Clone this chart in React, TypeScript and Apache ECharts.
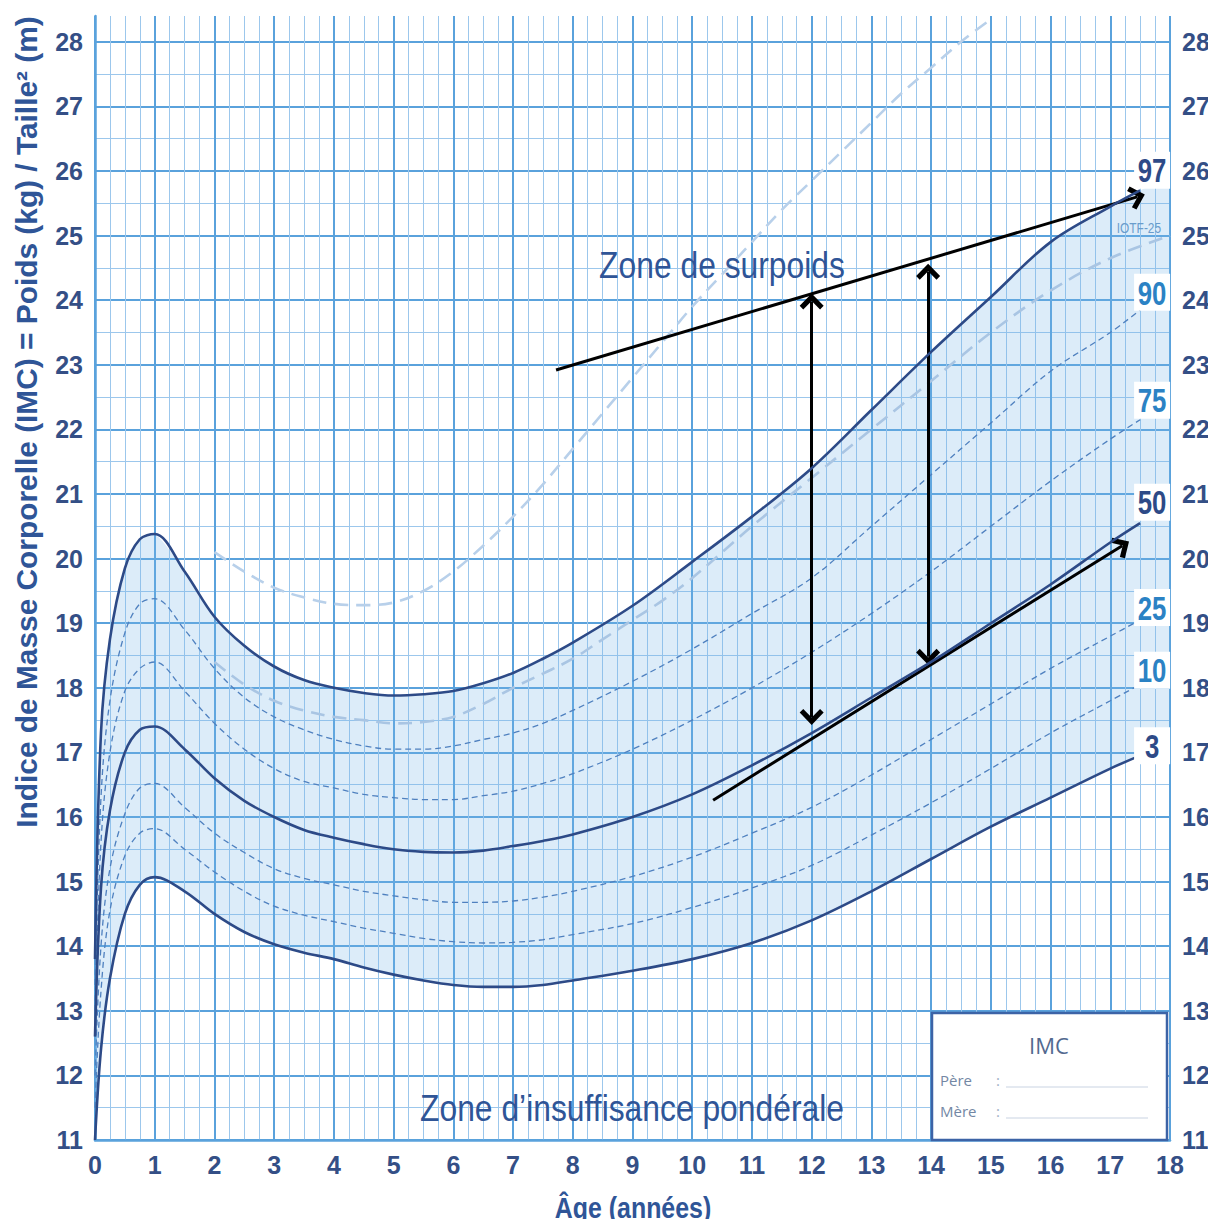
import React, { useEffect, useRef } from "react";
import * as echarts from "echarts";

// ---- data ----
const ages = [0, 0.1, 0.25, 0.5, 0.75, 1, 1.5, 2, 2.5, 3, 3.5, 4, 4.5, 5, 5.5, 6, 6.5, 7, 7.5, 8, 9, 10, 11, 12, 13, 14, 15, 16, 17, 17.5];
const p97 = [13.8, 17.3, 18.75, 19.85, 20.3, 20.38, 19.8, 19.1, 18.65, 18.33, 18.12, 18.0, 17.92, 17.88, 17.9, 17.95, 18.07, 18.23, 18.45, 18.7, 19.27, 19.95, 20.65, 21.4, 22.3, 23.2, 24.05, 24.9, 25.45, 25.7];
const p90 = [13.4, 16.3, 17.8, 18.85, 19.3, 19.38, 18.9, 18.3, 17.85, 17.55, 17.35, 17.2, 17.1, 17.05, 17.05, 17.1, 17.2, 17.3, 17.45, 17.65, 18.1, 18.6, 19.15, 19.7, 20.5, 21.3, 22.1, 22.9, 23.5, 23.85];
const p75 = [13.0, 15.6, 17.0, 17.95, 18.3, 18.4, 17.95, 17.45, 17.05, 16.75, 16.55, 16.45, 16.35, 16.3, 16.27, 16.27, 16.33, 16.4, 16.52, 16.67, 17.05, 17.5, 18.0, 18.55, 19.15, 19.8, 20.5, 21.2, 21.85, 22.15];
const p50 = [12.6, 14.9, 16.1, 17.0, 17.35, 17.4, 17.05, 16.6, 16.25, 16.0, 15.8, 15.68, 15.58, 15.5, 15.46, 15.45, 15.48, 15.55, 15.63, 15.73, 16.0, 16.35, 16.8, 17.3, 17.85, 18.4, 19.0, 19.6, 20.25, 20.55];
const p25 = [12.0, 14.0, 15.2, 16.05, 16.45, 16.52, 16.15, 15.75, 15.45, 15.2, 15.05, 14.95, 14.85, 14.78, 14.72, 14.68, 14.68, 14.7, 14.76, 14.85, 15.08, 15.38, 15.75, 16.15, 16.65, 17.2, 17.75, 18.3, 18.8, 19.05];
const p10 = [11.5, 13.3, 14.55, 15.4, 15.75, 15.82, 15.5, 15.15, 14.85, 14.62, 14.48, 14.38, 14.28, 14.2, 14.12, 14.07, 14.05, 14.06, 14.1, 14.18, 14.35, 14.6, 14.9, 15.25, 15.72, 16.22, 16.75, 17.3, 17.8, 18.05];
const p3 = [11.0, 12.4, 13.5, 14.5, 14.95, 15.07, 14.85, 14.5, 14.22, 14.03, 13.9, 13.8, 13.67, 13.56, 13.47, 13.4, 13.37, 13.37, 13.4, 13.47, 13.62, 13.8, 14.05, 14.4, 14.85, 15.35, 15.85, 16.3, 16.75, 16.95];

// shaded band continues to age 18
const bandEndAge = 18;
const bandEndP3 = 17.1;
const bandEndP97 = 25.85;

const iotfAges = [2, 2.5, 3, 3.5, 4, 4.5, 5, 5.5, 6, 6.5, 7, 7.5, 8, 8.5, 9, 9.5, 10, 11, 12, 13, 14, 15, 16, 17, 18];
const iotf25 = [18.4, 18.05, 17.8, 17.65, 17.55, 17.5, 17.45, 17.47, 17.55, 17.75, 18.0, 18.22, 18.45, 18.75, 19.05, 19.35, 19.7, 20.5, 21.25, 22.0, 22.75, 23.5, 24.15, 24.65, 25.0];
const iotf30Ages = [2, 2.5, 3, 3.5, 4, 4.5, 5, 5.5, 6, 6.5, 7, 7.5, 8, 8.5, 9, 9.5, 10, 10.5, 11, 11.5, 12, 12.5, 13, 13.5, 14, 14.5, 15];
const iotf30 = [20.1, 19.8, 19.55, 19.4, 19.3, 19.28, 19.32, 19.5, 19.8, 20.2, 20.65, 21.15, 21.7, 22.25, 22.8, 23.35, 23.9, 24.4, 24.9, 25.4, 25.85, 26.3, 26.75, 27.2, 27.6, 28.0, 28.35];

const percentileLabels = ["97", "90", "75", "50", "25", "10", "3"];
const xTicks = { min: 0, max: 18, step: 1 };
const yTicks = { min: 11, max: 28.4, step: 1 };

// ---- styling ----
const SANS = "'Liberation Sans', Arial, sans-serif";
const NAVY = "#2d4a87";
const LIGHTTAG = "#2b82c4";
const DASH = "#4f80bf";
const LABEL = "#344f86";
const TITLE = "#2f5597";
const MAJOR = "#5aa2dc";
const MINOR = "#9cc7ec";

const pairs = (xs: number[], ys: number[]) => xs.map((x, i) => [x, ys[i]]);

export default function App() {
  const ref = useRef<HTMLDivElement>(null);
  useEffect(() => {
    const chart = echarts.init(ref.current!, null, { renderer: "svg" });

    const bandX = [...ages, bandEndAge];
    const bandLow = [...p3, bandEndP3];
    const bandHigh = [...p97, bandEndP97];

    const SM = 0.35;
    const solid = (name: string, ys: number[]) => ({
      name, type: "line", data: pairs(ages, ys), symbol: "none", smooth: SM,
      lineStyle: { color: NAVY, width: 2.6 }, silent: true, z: 5,
    });
    const dashed = (name: string, ys: number[]) => ({
      name, type: "line", data: pairs(ages, ys), symbol: "none", smooth: SM,
      lineStyle: { color: DASH, width: 1.3, type: [6, 4] }, silent: true, z: 4,
    });

    const chevron = "path://M10,0 L20,10 L17,13 L10,6 L3,13 L0,10 Z";
    const arrowLine = { color: "#000", width: 3, type: "solid" };

    const tagColor: Record<string, string> = {
      "97": NAVY, "90": LIGHTTAG, "75": LIGHTTAG, "50": NAVY, "25": LIGHTTAG, "10": LIGHTTAG, "3": NAVY,
    };
    // tag anchor positions (age, bmi) for percentile labels
    const tagAt: Record<string, [number, number]> = {
      "97": [17.7, 26.02], "90": [17.7, 24.13], "75": [17.7, 22.46], "50": [17.7, 20.88],
      "25": [17.7, 19.25], "10": [17.7, 18.28], "3": [17.7, 17.11],
    };

    const tickLabel = {
      color: LABEL, fontSize: 25, fontWeight: "bold", fontFamily: SANS, margin: 12,
      formatter: (v: number) => (Number.isInteger(v) ? String(v) : ""),
    };

    const option: any = {
      animation: false,
      backgroundColor: "#ffffff",
      grid: { left: 95, right: 46, top: 16, bottom: 87, containLabel: false },
      xAxis: {
        type: "value", min: xTicks.min, max: xTicks.max, interval: xTicks.step,
        axisLine: { show: true, lineStyle: { color: MAJOR, width: 2.5 } },
        axisTick: { show: false },
        axisLabel: { ...tickLabel, margin: 12 },
        splitLine: { show: true, lineStyle: { color: MAJOR, width: 2 } },
        minorTick: { show: false, splitNumber: 4 },
        minorSplitLine: { show: true, lineStyle: { color: MINOR, width: 1 } },
      },
      yAxis: [
        {
          type: "value", min: yTicks.min, max: yTicks.max, interval: yTicks.step,
          axisLine: { show: true, lineStyle: { color: MAJOR, width: 2.5 } },
          axisTick: { show: false },
          axisLabel: tickLabel,
          splitLine: { show: true, showMaxLine: false, lineStyle: { color: MAJOR, width: 2 } },
          minorTick: { show: false, splitNumber: 2 },
          minorSplitLine: { show: true, lineStyle: { color: MINOR, width: 1 } },
        },
        {
          type: "value", position: "right", min: yTicks.min, max: yTicks.max, interval: yTicks.step,
          axisLine: { show: false }, axisTick: { show: false }, splitLine: { show: false },
          axisLabel: tickLabel,
        },
      ],
      series: [
        {
          name: "band", type: "custom", silent: true, z: 1, clip: true,
          data: [[bandX[0], bandLow[0]]],
          renderItem: (_params: any, api: any) => {
            const top = bandX.map((x, i) => api.coord([x, bandHigh[i]]));
            const bot = bandX.map((x, i) => api.coord([x, bandLow[i]])).reverse();
            return {
              type: "polygon",
              shape: { points: top.concat(bot), smooth: 0.3 },
              style: { fill: "rgba(120,180,230,0.26)", stroke: "none" },
            };
          },
        },
        {
          name: "IOTF-30", type: "line", data: pairs(iotf30Ages, iotf30), symbol: "none", smooth: SM,
          lineStyle: { color: "#b8d0ea", width: 2.6, type: [14, 8] }, silent: true, z: 3,
        },
        {
          name: "IOTF-25", type: "line", data: pairs(iotfAges, iotf25), symbol: "none", smooth: SM,
          lineStyle: { color: "#a9c5e3", width: 2.6, type: [14, 8] }, silent: true, z: 3,
        },
        dashed("P90", p90),
        dashed("P75", p75),
        dashed("P25", p25),
        dashed("P10", p10),
        solid("P97", p97),
        solid("P3", p3),
        {
          ...solid("P50", p50),
          markLine: {
            silent: true, animation: false, label: { show: false }, emphasis: { disabled: true },
            symbolSize: [24, 16],
            lineStyle: arrowLine,
            data: [
              [{ coord: [7.72, 22.92], symbol: "none" }, { coord: [17.45, 25.6], symbol: chevron }],
              [{ coord: [10.35, 16.26], symbol: "none" }, { coord: [17.2, 20.2], symbol: chevron }],
              [{ coord: [12.0, 17.55], symbol: chevron }, { coord: [12.0, 23.98], symbol: chevron }],
              [{ coord: [13.95, 18.48], symbol: chevron }, { coord: [13.95, 24.44], symbol: chevron }],
            ],
          },
        },
      ],
    };

    chart.setOption(option);

    const toPx = (p: [number, number]) => chart.convertToPixel({ xAxisIndex: 0, yAxisIndex: 0 }, p) as number[];

    const tagGraphics: any[] = [];
    percentileLabels.forEach((k) => {
      const [px, py] = toPx(tagAt[k]);
      tagGraphics.push({
        type: "rect", z: 20, shape: { x: px - 18, y: py - 18, width: 36, height: 37 }, style: { fill: "#ffffff" },
      });
      tagGraphics.push({
        type: "text", z: 21, x: px, y: py + 1, scaleX: 0.78,
        style: { text: k, fontSize: 33, fontWeight: "bold", fontFamily: SANS, fill: tagColor[k], align: "center", verticalAlign: "middle" },
      });
    });
    const [ix, iy] = toPx([17.48, 25.12]);
    tagGraphics.push({
      type: "text", z: 21, x: ix, y: iy, scaleX: 0.85,
      style: { text: "IOTF-25", fontSize: 14, fontFamily: SANS, fill: "#6a9ccc", align: "center", verticalAlign: "middle" },
    });

    const graphic: any[] = [
      {
        type: "text", x: 27, y: 422, rotation: Math.PI / 2, z: 10, scaleX: 1.03,
        style: {
          text: "Indice de Masse Corporelle (IMC) = Poids (kg) / Taille² (m)",
          fontSize: 29, fontWeight: "bold", fontFamily: SANS, fill: TITLE,
          align: "center", verticalAlign: "middle",
        },
      },
      {
        type: "text", x: 633, y: 1208, z: 10, scaleX: 0.86,
        style: { text: "Âge (années)", fontSize: 29, fontWeight: "bold", fontFamily: SANS, fill: TITLE, align: "center", verticalAlign: "middle" },
      },
      {
        type: "text", x: 722, y: 265, z: 10, scaleX: 0.86,
        style: { text: "Zone de surpoids", fontSize: 37, fontFamily: SANS, fill: TITLE, align: "center", verticalAlign: "middle" },
      },
      {
        type: "text", x: 632, y: 1108, z: 10, scaleX: 0.86,
        style: { text: "Zone d’insuffisance pondérale", fontSize: 37, fontFamily: SANS, fill: TITLE, align: "center", verticalAlign: "middle" },
      },
      { type: "rect", z: 10, shape: { x: 932, y: 1013, width: 235, height: 127 }, style: { fill: "#ffffff", stroke: "#3c63a6", lineWidth: 2.5 } },
      { type: "text", x: 1049, y: 1045, z: 11, style: { text: "IMC", fontSize: 22, fontFamily: "'Open Sans', sans-serif", fill: "#52698f", align: "center", verticalAlign: "middle" } },
      { type: "text", x: 940, y: 1080, z: 11, style: { text: "Père", fontSize: 15, fontFamily: "'Open Sans', sans-serif", fill: "#7387a4", align: "left", verticalAlign: "middle" } },
      { type: "text", x: 940, y: 1111, z: 11, style: { text: "Mère", fontSize: 15, fontFamily: "'Open Sans', sans-serif", fill: "#7387a4", align: "left", verticalAlign: "middle" } },
      { type: "text", x: 998, y: 1080, z: 11, style: { text: ":", fontSize: 15, fontFamily: "'Open Sans', sans-serif", fill: "#a0b0c6", align: "center", verticalAlign: "middle" } },
      { type: "text", x: 998, y: 1111, z: 11, style: { text: ":", fontSize: 15, fontFamily: "'Open Sans', sans-serif", fill: "#a0b0c6", align: "center", verticalAlign: "middle" } },
      { type: "line", z: 11, shape: { x1: 1006, y1: 1087, x2: 1148, y2: 1087 }, style: { stroke: "#c9d3e2", lineWidth: 1 } },
      { type: "line", z: 11, shape: { x1: 1006, y1: 1118, x2: 1148, y2: 1118 }, style: { stroke: "#c9d3e2", lineWidth: 1 } },
      ...tagGraphics,
    ];

    chart.setOption({ graphic });
    return () => chart.dispose();
  }, []);

  return <div ref={ref} style={{ width: 1216, height: 1227, margin: -8 }} />;
}
